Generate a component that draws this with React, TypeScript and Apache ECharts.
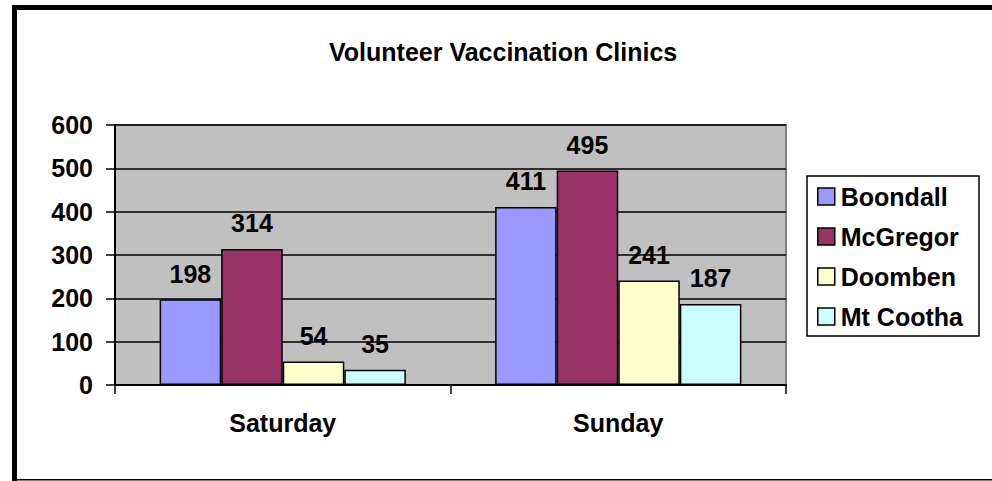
import React, { useEffect, useRef } from "react";
import * as echarts from "echarts";

const title = "Volunteer Vaccination Clinics";
const categories = ["Saturday", "Sunday"];
const seriesNames = ["Boondall", "McGregor", "Doomben", "Mt Cootha"];
const boondall = [198, 411];
const mcgregor = [314, 495];
const doomben = [54, 241];
const mtCootha = [35, 187];
const seriesColors = ["#9999FF", "#993366", "#FFFFCC", "#CCFFFF"];
const yMin = 0;
const yMax = 600;
const yInterval = 100;

const FONT = "'Liberation Sans', Arial, Helvetica, sans-serif";

export default function App() {
  const ref = useRef<HTMLDivElement>(null);
  useEffect(() => {
    if (!ref.current) return;
    const chart = echarts.init(ref.current, null, { renderer: "svg" });
    const values = [boondall, mcgregor, doomben, mtCootha];
    const textStyle = { fontFamily: FONT, fontWeight: "bold" as const, fontSize: 25, color: "#000" };
    chart.setOption({
      animation: false,
      backgroundColor: "#fff",
      title: {
        text: title,
        left: 329,
        top: 39,
        padding: 0,
        textStyle: { ...textStyle, fontSize: 25 },
      },
      grid: {
        left: 115,
        right: 206,
        top: 125,
        bottom: 96,
        show: true,
        backgroundColor: "#C0C0C0",
        borderColor: "#808080",
        borderWidth: 2,
      },
      legend: {
        orient: "vertical",
        left: 817,
        top: 184,
        padding: 0,
        itemWidth: 17,
        itemHeight: 17,
        itemGap: 15,
        itemStyle: { borderColor: "#000", borderWidth: 1.5 },
        icon: "rect",
        textStyle: { ...textStyle, fontSize: 25, padding: [0, 0, 0, 1] },
        data: seriesNames,
      },
      graphic: [
        { type: "rect", shape: { x: 807, y: 176, width: 172, height: 160 }, style: { fill: "transparent", stroke: "#000", lineWidth: 1.5 }, z: 10 },
        { type: "rect", shape: { x: 12, y: 5, width: 992, height: 5 }, style: { fill: "#000" } },
        { type: "rect", shape: { x: 12, y: 5, width: 5, height: 481 }, style: { fill: "#000" } },
        { type: "rect", shape: { x: 12, y: 479, width: 992, height: 1.5 }, style: { fill: "#000" } },
      ],
      xAxis: {
        type: "category",
        data: categories,
        axisLine: { show: true, lineStyle: { color: "#000", width: 2 } },
        axisTick: { show: true, length: 9, lineStyle: { color: "#000", width: 1.5 } },
        axisLabel: { ...textStyle, margin: 25 },
      },
      yAxis: {
        type: "value",
        min: yMin,
        max: yMax,
        interval: yInterval,
        axisLine: { show: true, lineStyle: { color: "#000", width: 2 } },
        axisTick: { show: true, length: 9, lineStyle: { color: "#000", width: 1.5 } },
        axisLabel: { ...textStyle, margin: 22 },
        splitLine: { show: true, lineStyle: { color: "#000", width: 1.5 } },
      },
      series: seriesNames.map((name, i) => ({
        name,
        type: "bar",
        data: values[i],
        barGap: "0%",
        barCategoryGap: "26.6%",
        itemStyle: { color: seriesColors[i], borderColor: "#000", borderWidth: 1.5 },
        label: { show: true, position: "top", distance: 13, ...textStyle },
      })),
    });
    return () => chart.dispose();
  }, []);
  return <div ref={ref} style={{ position: "fixed", left: 0, top: 0, width: 992, height: 481 }} />;
}
